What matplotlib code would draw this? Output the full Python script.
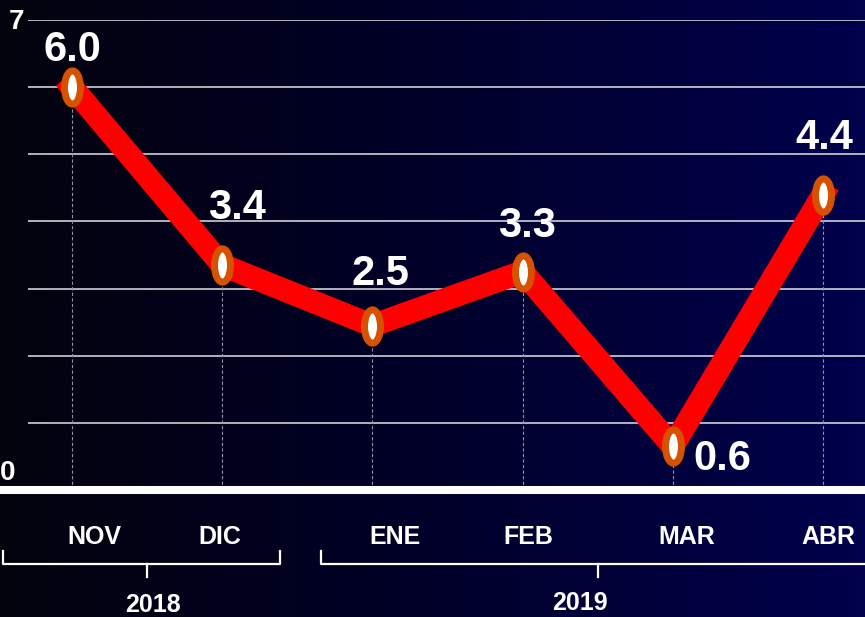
import matplotlib
matplotlib.use("Agg")
import matplotlib.pyplot as plt
import numpy as np
from matplotlib.colors import LinearSegmentedColormap
from matplotlib.path import Path
from matplotlib.transforms import Affine2D, blended_transform_factory

plt.rcParams['font.family'] = ['Liberation Sans', 'DejaVu Sans']

# data
months = ['NOV', 'DIC', 'ENE', 'FEB', 'MAR', 'ABR']
values = [6.0, 3.35, 2.45, 3.25, 0.65, 4.4]
value_labels = ['6.0', '3.4', '2.5', '3.3', '0.6', '4.4']
years = ['2018', '2019']
year_groups = [(0, 1), (2, 5)]

# label nudges (points)
label_offsets = [(0, 27), (11, 41), (6, 37), (3, 33), (36, -9), (1, 41)]
month_nudge = [16, -2, 16, 4, 10, 4]

W, H = 865, 617
fig = plt.figure(figsize=(W / 100, H / 100), dpi=100)

# dark gradient background
bg = fig.add_axes([0, 0, 1, 1], zorder=-10)
grad = np.linspace(0, 1, 256).reshape(1, -1)
cmap = LinearSegmentedColormap.from_list('bg', ['#03030d', '#00002a', '#00004c'])
bg.imshow(grad, aspect='auto', cmap=cmap, extent=[0, 1, 0, 1])
bg.axis('off')

ax = fig.add_axes([28 / W, 127 / H, 837 / W, 470 / H])
ax.patch.set_alpha(0)
x = np.arange(len(months))
ax.set_xlim(-0.293, 5.28)
ax.set_ylim(0, 7)
for s in ax.spines.values():
    s.set_visible(False)
ax.set_xticks([])
ax.set_yticks([])

for g in range(1, 8):
    ax.axhline(g, color='#d0d0d8', lw=1.2, zorder=1)
ax.vlines(x, 0, values, colors='#9090a8', linestyles=(0, (3, 2)), lw=0.8, zorder=1)

# baseline
ax.axhline(0, xmin=-0.04, xmax=1, color='white', lw=5.8, clip_on=False, zorder=2)

ellipse = Affine2D().scale(0.48, 1).transform_path(Path.unit_circle())
ax.plot(x, values, color='#ff0000', lw=16.5, solid_joinstyle='miter', zorder=3)
ax.plot(x, values, ls='none', marker=ellipse, ms=24, mfc='white', mec='#d65200',
        mew=5, zorder=4)

for xi, v, lab, off in zip(x, values, value_labels, label_offsets):
    ax.annotate(lab, (xi, v), xytext=off, textcoords='offset points',
                ha='center', va='center', color='white', fontsize=30,
                fontweight='bold', zorder=5)

# y labels
ax.annotate('7', (0, 7), xycoords=('axes fraction', 'data'), xytext=(-8, -1.5),
            textcoords='offset points', ha='center', va='center', color='white',
            fontsize=20, fontweight='bold', annotation_clip=False)
ax.annotate('0', (0, 0), xycoords=('axes fraction', 'data'), xytext=(-14.5, 12),
            textcoords='offset points', ha='center', va='center', color='white',
            fontsize=20, fontweight='bold', annotation_clip=False)

tr = blended_transform_factory(ax.transData, fig.transFigure)

def fy(py):
    return 1 - py / H

for xi, m, nd in zip(x, months, month_nudge):
    ax.annotate(m, (xi, fy(537)), xycoords=tr, xytext=(nd, 0),
                textcoords='offset points', ha='center', va='center',
                color='white', fontsize=18, fontweight='bold',
                annotation_clip=False)

# year brackets
bracket_ext = [(-0.46, 0.385), (-0.34, 0.5)]
year_x = [0.54, 3.38]
year_y = [605, 603]
for (a, b), (ea, eb), yr, yx, yy in zip(year_groups, bracket_ext, years, year_x, year_y):
    x0, x1 = a + ea, b + eb
    mid = (a + b) / 2
    kw = dict(color='white', lw=1.6, transform=tr, clip_on=False)
    ax.plot([x0, x0, x1, x1], [fy(551), fy(564), fy(564), fy(551)], **kw)
    ax.plot([mid, mid], [fy(564), fy(577)], **kw)
    ax.text(yx, fy(yy), yr, transform=tr, ha='center', va='center',
            color='white', fontsize=18, fontweight='bold', clip_on=False)

fig.savefig('out.png', dpi=100)
